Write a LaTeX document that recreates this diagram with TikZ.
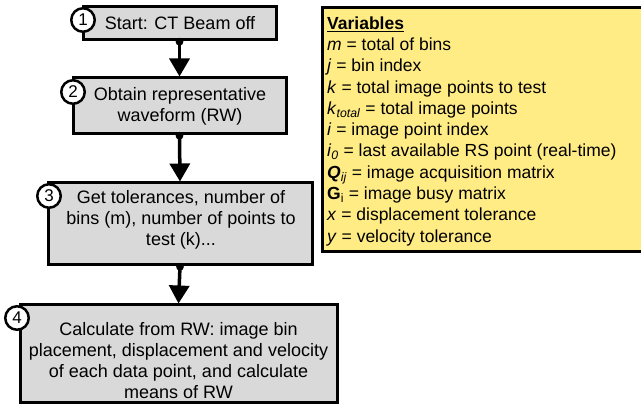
\documentclass[tikz,border=0pt]{standalone}
\usepackage{fontspec}
\setmainfont{Liberation Sans}
\usetikzlibrary{arrows.meta}
\definecolor{boxgray}{RGB}{217,217,217}
\definecolor{varyellow}{RGB}{255,236,133}
\begin{document}
\begin{tikzpicture}[x=1pt,y=-1pt,
  flowbox/.style={draw,line width=3pt,fill=boxgray,inner sep=0pt},
  flowtext/.style={align=center,font=\fontsize{18}{21}\selectfont,inner sep=0pt},
  numcirc/.style={circle,draw,line width=2.5pt,fill=white,minimum size=23.5pt,inner sep=0pt,font=\fontsize{17}{17}\selectfont},
  arr/.style={line width=3.5pt,shorten <=-3.5pt,{Circle[length=7.5pt,width=7.5pt]}-{Triangle[width=20pt,length=18pt]}}]
\useasboundingbox (0,0) rectangle (641,406);

% variables box
\node[draw,line width=3pt,fill=varyellow,minimum width=324pt,minimum height=244pt,anchor=north west,inner sep=0pt] (vars) at (321,6) {};
\node[anchor=north west,align=left,inner sep=0pt,font=\fontsize{17.5}{21.3}\selectfont] (vartext) at (327,16.3)
  {\underline{\textbf{Variables}}\\
   \textit{m} = total of bins\\
   \textit{j} = bin index\\
   \textit{k} = total image points to test\\
   \textit{k}\textsubscript{\textit{total}} = total image points\\
   \textit{i} = image point index\\
   \textit{i}\textsubscript{\textit{0}} = last available RS point (real-time)\\
   \textbf{\textit{Q}}\textsubscript{\textit{ij}} = image acquisition matrix\\
   \textbf{G}\textsubscript{i} = image busy matrix\\
   \textit{x} = displacement tolerance\\
   \textit{y} = velocity tolerance};

% flow boxes
\node[flowbox,minimum width=193pt,minimum height=33pt] (b1) at (179.5,23.5) {};
\node[flowbox,minimum width=213pt,minimum height=56pt] (b2) at (179.5,106) {};
\node[flowbox,minimum width=264pt,minimum height=82pt] (b3) at (180,224) {};
\node[flowbox,minimum width=317pt,minimum height=98pt] (b4) at (178.5,354) {};

\node[flowtext] (t1) at (180,23.5) {Start: CT Beam off};
\node[flowtext] (t2) at (180,106.5) {Obtain representative\\waveform (RW)};
\node[flowtext] (t3) at (181,220) {Get tolerances, number of\\bins (m), number of points to\\test (k)...};
\node[flowtext] (t4) at (178.5,360.5) {Calculate from RW: image bin\\placement, displacement and velocity\\of each data point, and calculate\\means of RW};

% arrows
\draw[arr] (b1.south) -- (b2.north);
\draw[arr] (b2.south) -- (b3.north);
\draw[arr] (b3.south) -- (b4.north);

% number circles
\node[numcirc] (c1) at (83,20) {1};
\node[numcirc] (c2) at (73,92) {2};
\node[numcirc] (c3) at (49,196) {3};
\node[numcirc] (c4) at (17,318) {4};
\end{tikzpicture}
\end{document}
